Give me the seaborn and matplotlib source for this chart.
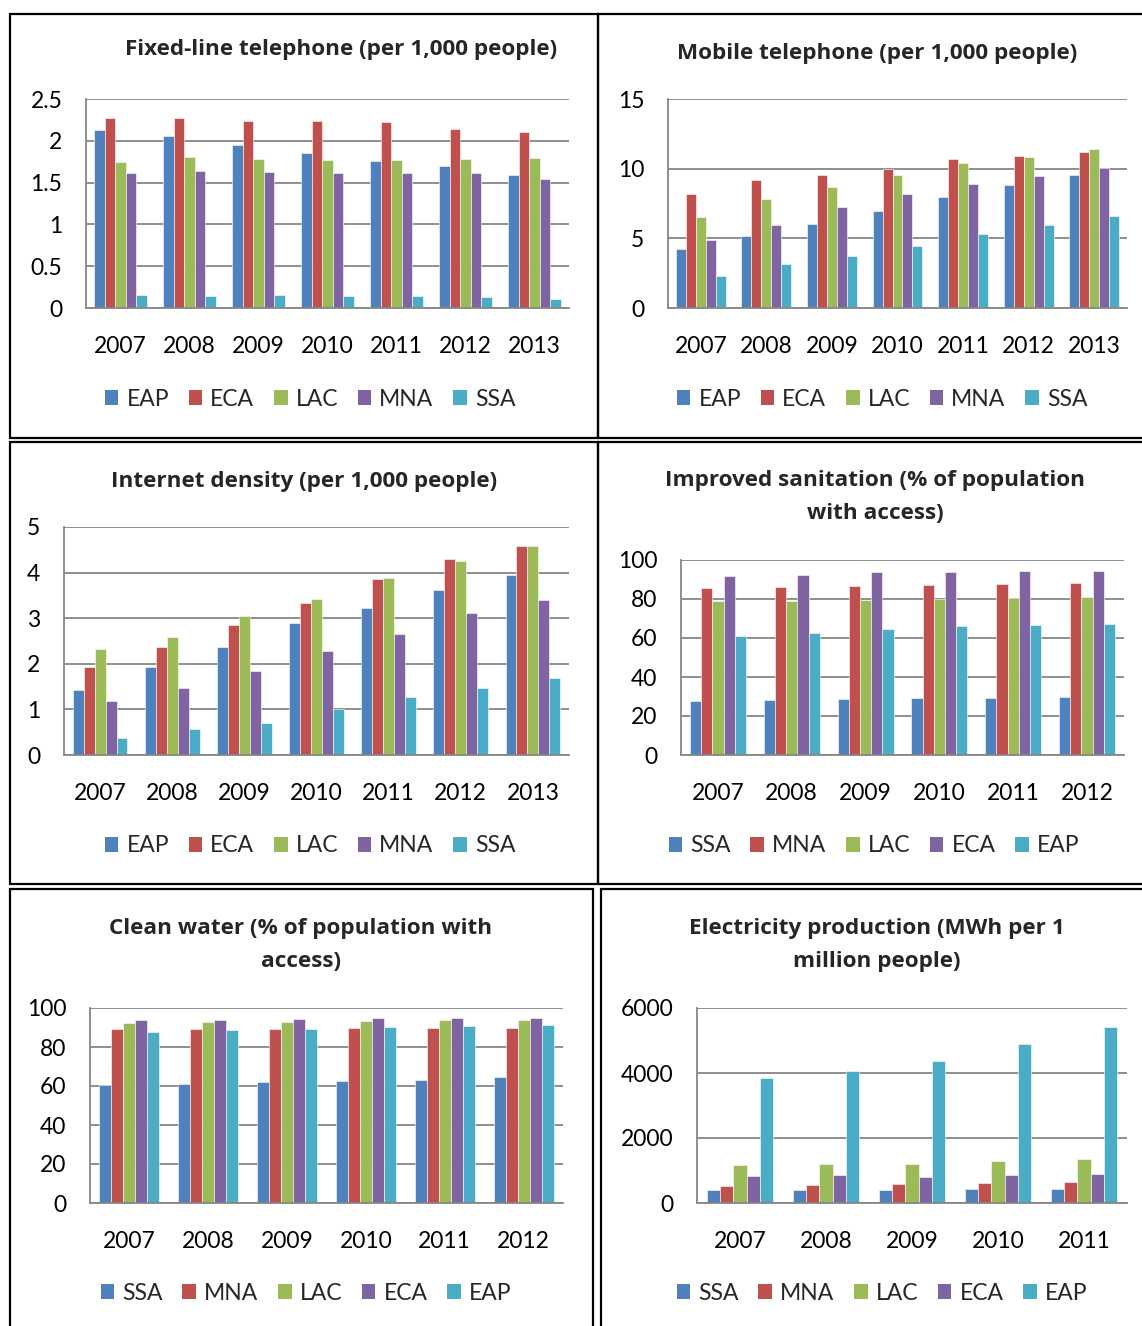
import numpy as np
import pandas as pd
import matplotlib
matplotlib.use("Agg")
import matplotlib.pyplot as plt
from matplotlib.patches import Rectangle, Patch
import seaborn as sns

# ---------------------------------------------------------------- data
years_07_13 = ["2007", "2008", "2009", "2010", "2011", "2012", "2013"]
years_07_12 = ["2007", "2008", "2009", "2010", "2011", "2012"]
years_07_11 = ["2007", "2008", "2009", "2010", "2011"]

regions_fwd = ["EAP", "ECA", "LAC", "MNA", "SSA"]
regions_rev = ["SSA", "MNA", "LAC", "ECA", "EAP"]

# Fixed-line telephone (per 1,000 people)
fixed_eap = [2.13, 2.06, 1.95, 1.85, 1.76, 1.70, 1.59]
fixed_eca = [2.27, 2.27, 2.24, 2.24, 2.22, 2.14, 2.10]
fixed_lac = [1.75, 1.81, 1.78, 1.77, 1.77, 1.78, 1.80]
fixed_mna = [1.61, 1.64, 1.63, 1.62, 1.62, 1.61, 1.54]
fixed_ssa = [0.15, 0.14, 0.15, 0.14, 0.14, 0.13, 0.11]

# Mobile telephone (per 1,000 people)
mobile_eap = [4.22, 5.20, 6.04, 6.95, 7.96, 8.85, 9.54]
mobile_eca = [8.18, 9.18, 9.54, 9.98, 10.70, 10.91, 11.18]
mobile_lac = [6.55, 7.84, 8.68, 9.52, 10.38, 10.84, 11.39]
mobile_mna = [4.87, 5.95, 7.22, 8.18, 8.90, 9.47, 10.02]
mobile_ssa = [2.28, 3.17, 3.74, 4.46, 5.30, 5.95, 6.57]

# Internet density (per 1,000 people)
inet_eap = [1.43, 1.92, 2.37, 2.90, 3.22, 3.61, 3.95]
inet_eca = [1.93, 2.37, 2.85, 3.34, 3.85, 4.29, 4.59]
inet_lac = [2.32, 2.59, 3.05, 3.42, 3.88, 4.26, 4.58]
inet_mna = [1.18, 1.46, 1.84, 2.27, 2.65, 3.12, 3.41]
inet_ssa = [0.38, 0.58, 0.71, 1.01, 1.27, 1.46, 1.68]

# Improved sanitation (% of population with access)
sanit_ssa = [27.9, 28.1, 28.6, 29.0, 29.1, 29.5]
sanit_mna = [85.7, 86.2, 86.9, 87.4, 87.9, 88.4]
sanit_lac = [78.8, 78.8, 79.5, 80.2, 80.7, 81.0]
sanit_eca = [91.9, 92.2, 94.1, 94.1, 94.5, 94.5]
sanit_eap = [61.2, 62.8, 64.7, 66.0, 66.6, 67.1]

# Clean water (% of population with access)
water_ssa = [60.5, 61.0, 61.9, 62.7, 63.2, 64.4]
water_mna = [89.0, 89.0, 89.3, 89.5, 89.7, 89.7]
water_lac = [92.1, 92.6, 93.0, 93.3, 93.6, 94.0]
water_eca = [93.6, 94.0, 94.5, 94.7, 94.7, 94.8]
water_eap = [87.5, 88.5, 89.3, 90.4, 90.7, 91.1]

# Electricity production (MWh per 1 million people)
elec_ssa = [412, 412, 392, 433, 443]
elec_mna = [526, 557, 588, 629, 649]
elec_lac = [1155, 1206, 1206, 1278, 1340]
elec_eca = [835, 856, 814, 876, 907]
elec_eap = [3845, 4062, 4361, 4887, 5412]

# axis ticks and labels
ticks_fixed = [0, 0.5, 1, 1.5, 2, 2.5]
labels_fixed = ["0", "0.5", "1", "1.5", "2", "2.5"]
ticks_mobile = [0, 5, 10, 15]
labels_mobile = ["0", "5", "10", "15"]
ticks_inet = [0, 1, 2, 3, 4, 5]
labels_inet = ["0", "1", "2", "3", "4", "5"]
ticks_pct = [0, 20, 40, 60, 80, 100]
labels_pct = ["0", "20", "40", "60", "80", "100"]
ticks_elec = [0, 2000, 4000, 6000]
labels_elec = ["0", "2000", "4000", "6000"]

# ---------------------------------------------------------------- style
PALETTE = ["#4F81BD", "#C0504D", "#9BBB59", "#8064A2", "#4BACC6"]
GRID = "#868686"
W, H = 1142, 1326

sns.set_style("white")
plt.rcParams["font.family"] = ["Lato", "DejaVu Sans"]
TITLE_FONT = ["Open Sans", "DejaVu Sans"]

fig = plt.figure(figsize=(W / 100, H / 100), dpi=100)


def fx(px):
    return px / W


def fy(py):
    return 1 - py / H


def frame(x0, y0, x1, y1):
    fig.add_artist(Rectangle((fx(x0), fy(y1)), fx(x1 - x0), (y1 - y0) / H,
                             transform=fig.transFigure, fill=False,
                             ec="black", lw=1.6))


def panel(box, years, regions, series, ylim, yticks, ylabels,
          title, title_xy, legend_xy):
    x0, y0, x1, y1 = box
    ax = fig.add_axes([fx(x0), fy(y1), fx(x1 - x0), (y1 - y0) / H])
    df = pd.DataFrame(dict(zip(regions, series)), index=years)
    df = df.rename_axis("year").reset_index().melt(
        id_vars="year", var_name="region", value_name="value")
    sns.barplot(data=df, x="year", y="value", hue="region",
                order=years, hue_order=regions, palette=PALETTE,
                saturation=1, width=0.76, edgecolor="white",
                linewidth=0.4, ax=ax, legend=False)
    n = len(years)
    ax.set_xlim(-0.5, n - 0.5)
    ax.set_ylim(*ylim)
    ax.set_xlabel("")
    ax.set_ylabel("")
    ax.set_axisbelow(True)
    ax.yaxis.grid(True, color=GRID, lw=1.3)
    ax.xaxis.grid(False)
    for s in ("top", "right"):
        ax.spines[s].set_visible(False)
    for s in ("left", "bottom"):
        ax.spines[s].set_color(GRID)
        ax.spines[s].set_linewidth(1.3)
    ax.set_yticks(yticks)
    ax.set_yticklabels(ylabels)
    ax.tick_params(axis="y", length=5, width=1.3, color=GRID, pad=12,
                   labelsize=16.5, labelcolor="black")
    ax.set_xticks(range(n))
    ax.set_xticklabels(years)
    ax.set_xticks(np.arange(-0.5, n, 1.0), minor=True)
    ax.tick_params(axis="x", which="major", length=0, pad=20,
                   labelsize=16.5, labelcolor="black")
    ax.tick_params(axis="x", which="minor", length=6, width=1.3, color=GRID)

    fig.text(fx(title_xy[0]), fy(title_xy[1]), title, ha="center",
             va="center", fontsize=16.2, fontweight="bold",
             family=TITLE_FONT, linespacing=1.72)
    handles = [Patch(facecolor=c, edgecolor="none") for c in PALETTE]
    fig.legend(handles, regions, loc="center",
               bbox_to_anchor=(fx(legend_xy[0]), fy(legend_xy[1])),
               ncol=5, frameon=False, fontsize=16.5, handlelength=0.6,
               handleheight=0.6, handletextpad=0.35, columnspacing=0.85,
               borderaxespad=0, borderpad=0)
    return ax


# panel borders
frame(10, 14, 598, 438)
frame(598, 14, 1150, 438)
frame(10, 442, 598, 884)
frame(598, 442, 1150, 884)
frame(10, 889, 593, 1335)
frame(601, 889, 1150, 1335)

panel((86, 99, 569, 308), years_07_13, regions_fwd,
      [fixed_eap, fixed_eca, fixed_lac, fixed_mna, fixed_ssa],
      (0, 2.5), ticks_fixed, labels_fixed,
      "Fixed-line telephone (per 1,000 people)", (341, 50), (310, 399))

panel((668, 99, 1127, 308), years_07_13, regions_fwd,
      [mobile_eap, mobile_eca, mobile_lac, mobile_mna, mobile_ssa],
      (0, 15), ticks_mobile, labels_mobile,
      "Mobile telephone (per 1,000 people)", (877, 53), (882, 399))

panel((64, 527, 569, 755), years_07_13, regions_fwd,
      [inet_eap, inet_eca, inet_lac, inet_mna, inet_ssa],
      (0, 5), ticks_inet, labels_inet,
      "Internet density (per 1,000 people)", (304, 481), (310, 846))

panel((681, 560, 1124, 755), years_07_12, regions_rev,
      [sanit_ssa, sanit_mna, sanit_lac, sanit_eca, sanit_eap],
      (0, 100), ticks_pct, labels_pct,
      "Improved sanitation (% of population\nwith access)", (875, 497),
      (874, 846))

panel((90, 1008, 563, 1203), years_07_12, regions_rev,
      [water_ssa, water_mna, water_lac, water_eca, water_eap],
      (0, 100), ticks_pct, labels_pct,
      "Clean water (% of population with\naccess)", (301, 945),
      (306, 1293))

panel((697, 1008, 1127, 1203), years_07_11, regions_rev,
      [elec_ssa, elec_mna, elec_lac, elec_eca, elec_eap],
      (0, 6000), ticks_elec, labels_elec,
      "Electricity production (MWh per 1\nmillion people)", (877, 945),
      (882, 1293))

fig.savefig("out.png", dpi=100, facecolor="white")
